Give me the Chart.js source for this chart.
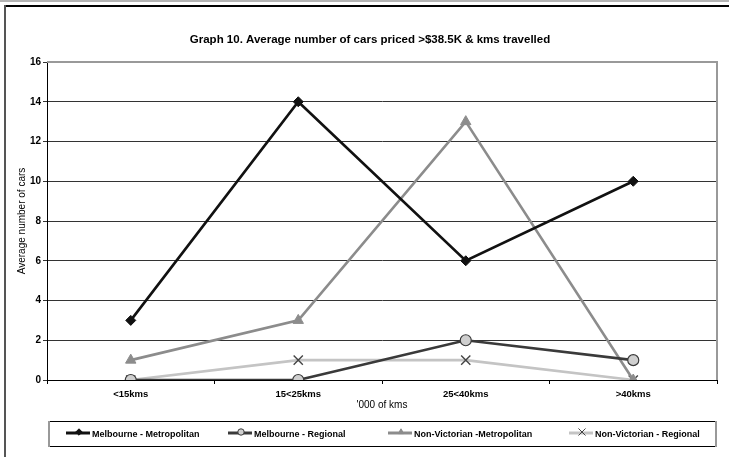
<!DOCTYPE html>
<html>
<head>
<meta charset="utf-8">
<script src="https://cdn.jsdelivr.net/npm/chart.js@4/dist/chart.umd.min.js"></script>
<style>
  html, body { margin: 0; padding: 0; background: #fff; }
  #wrap { position: relative; width: 729px; height: 457px; }
</style>
</head>
<body>
<div id="wrap"><canvas id="myChart" width="729" height="457"></canvas></div>
<script>
// chart data
var categories = ["<15kms", "15<25kms", "25<40kms", ">40kms"];
var seriesNames = ["Melbourne - Metropolitan", "Melbourne - Regional", "Non-Victorian -Metropolitan", "Non-Victorian - Regional"];
var melbMetro = [3, 14, 6, 10];
var melbRegional = [0, 0, 2, 1];
var nonVicMetro = [1, 3, 13, 0];
var nonVicRegional = [0, 1, 1, 0];
var yTicks = [0, 2, 4, 6, 8, 10, 12, 14, 16];
var chartTitle = "Graph 10. Average number of cars priced >$38.5K & kms travelled";

var FONT = "'Liberation Sans', Arial, sans-serif";

// frame round the whole picture, title, and a boxed legend under the axis
var framePlugin = {
  id: "frame",
  beforeDraw: function (chart) {
    var c = chart.ctx;
    c.save();
    c.fillStyle = "#fff";
    c.fillRect(0, 0, chart.width, chart.height);
    c.fillStyle = "#b4b4b4";
    c.fillRect(0, 0, chart.width, 2);
    c.fillStyle = "#000";
    c.fillRect(4, 5, chart.width - 4, 2);
    c.fillStyle = "#555";
    c.fillRect(4, 5, 2, chart.height - 5);

    c.fillStyle = "#000";
    c.font = "bold 11.5px " + FONT;
    c.textAlign = "center";
    c.textBaseline = "middle";
    c.fillText(chartTitle, 370, 40);
    c.restore();
  },
  afterDraw: function (chart) {
    var c = chart.ctx;
    var a = chart.chartArea;
    c.save();
    // grey top and right edge of plot area
    c.strokeStyle = "#999";
    c.lineWidth = 2;
    c.beginPath();
    c.moveTo(a.left, a.top);
    c.lineTo(a.right, a.top);
    c.lineTo(a.right, a.bottom);
    c.stroke();

    // legend box
    var lx = 48, ly = 421, lw = 668, lh = 25;
    c.strokeStyle = "#000";
    c.lineWidth = 1;
    c.strokeRect(lx + 0.5, ly + 0.5, lw, lh);
    c.strokeStyle = "#999";
    c.lineWidth = 2;
    c.beginPath();
    c.moveTo(lx + 1, ly);
    c.lineTo(lx + 1, ly + lh + 1);
    c.moveTo(lx + lw, ly);
    c.lineTo(lx + lw, ly + lh + 1);
    c.stroke();

    var starts = [66, 228, 388, 569];
    var cy = ly + 12;
    c.font = "bold 9px " + FONT;
    c.textBaseline = "middle";
    chart.data.datasets.forEach(function (ds, i) {
      var x0 = starts[i];
      c.strokeStyle = ds.borderColor;
      c.lineWidth = 3;
      c.beginPath();
      c.moveTo(x0, cy);
      c.lineTo(x0 + 24, cy);
      c.stroke();
      c.fillStyle = ds.pointBackgroundColor;
      c.strokeStyle = ds.pointBorderColor;
      c.lineWidth = 1;
      Chart.helpers.drawPoint(c, {
        pointStyle: ds.pointStyle,
        radius: ds.pointStyle === "crossRot" ? 5 : 3.2,
        borderWidth: 1
      }, x0 + 13, cy - 1);
      c.fillStyle = "#000";
      c.fillText(ds.label, x0 + 26, cy + 2);
    });
    c.restore();
  }
};

var ctx = document.getElementById("myChart").getContext("2d");
var datasets = [
  { label: seriesNames[0], data: melbMetro, borderColor: "#111", backgroundColor: "#111",
    pointStyle: "rectRot", pointRadius: 5, pointBorderWidth: 1 },
  { label: seriesNames[1], data: melbRegional, borderColor: "#3a3a3a", backgroundColor: "#cfcfcf",
    pointStyle: "circle", pointRadius: 5.5, pointBorderWidth: 1.2 },
  { label: seriesNames[2], data: nonVicMetro, borderColor: "#8c8c8c", backgroundColor: "#8c8c8c",
    pointStyle: "triangle", pointRadius: 6, pointBorderWidth: 1 },
  { label: seriesNames[3], data: nonVicRegional, borderColor: "#c4c4c4", backgroundColor: "#c4c4c4",
    pointStyle: "crossRot", pointRadius: 6.5, pointBorderWidth: 1.4, pointBorderColor: "#444" }
];
datasets.forEach(function (d) {
  d.borderWidth = 2.6;
  d.tension = 0;
  d.fill = false;
  d.pointBackgroundColor = d.backgroundColor;
  if (!d.pointBorderColor) d.pointBorderColor = d.borderColor;
});

var myChart = new Chart(ctx, {
  type: "line",
  data: { labels: categories, datasets: datasets },
  plugins: [framePlugin],
  options: {
    responsive: false,
    animation: false,
    layout: { padding: { top: 62, left: 0, right: 12, bottom: 43 } },
    plugins: {
      legend: { display: false },
      tooltip: { enabled: false },
      title: { display: false }
    },
    scales: {
      x: {
        offset: true,
        afterFit: function (axis) { axis.height = 34; },
        grid: { offset: true, drawOnChartArea: false, drawTicks: true, tickLength: 4, color: "#000" },
        border: { color: "#000", width: 1 },
        ticks: { color: "#000", font: { family: FONT, size: 9.5, weight: "bold" }, padding: 5 },
        title: { display: true, text: "'000 of kms", color: "#000",
                 font: { family: FONT, size: 10 }, padding: { top: 2, bottom: 3 } }
      },
      y: {
        min: 0,
        max: 16,
        afterFit: function (axis) { axis.width = 47; },
        afterBuildTicks: function (axis) {
          axis.ticks = yTicks.map(function (v) { return { value: v }; });
        },
        grid: { color: "#333", lineWidth: 1, tickLength: 4 },
        border: { color: "#000", width: 1 },
        ticks: { color: "#000", font: { family: FONT, size: 10, weight: "bold" }, padding: 2 },
        title: { display: true, text: "Average number of cars", color: "#000",
                 font: { family: FONT, size: 10 }, padding: { top: 16, bottom: 0 } }
      }
    }
  }
});
</script>
</body>
</html>
